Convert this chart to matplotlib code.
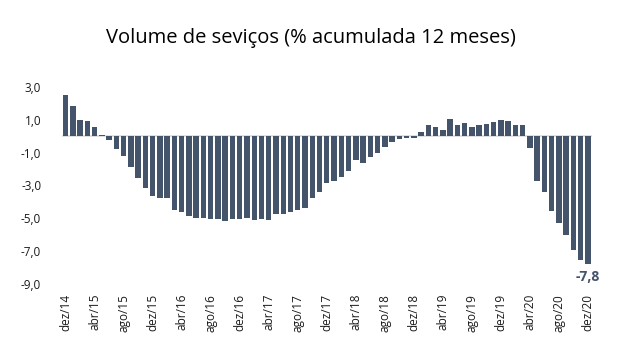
import matplotlib
matplotlib.use("Agg")
import matplotlib.pyplot as plt
import numpy as np

plt.rcParams['font.family'] = ['Open Sans', 'DejaVu Sans']

title = "Volume de seviços (% acumulada 12 meses)"
months = ["jan", "fev", "mar", "abr", "mai", "jun", "jul", "ago", "set", "out", "nov", "dez"]
# dez/14 .. dez/20 (73 months)
values = [
    2.5, 1.8, 1.0, 0.9, 0.55, 0.06,
    -0.24, -0.79, -1.22, -1.89, -2.56, -3.17, -3.66, -3.78, -3.78, -4.51, -4.63, -4.88,
    -5.0, -5.0, -5.06, -5.06, -5.18, -5.06, -5.06, -5.0, -5.12, -5.06, -5.12, -4.76,
    -4.76, -4.63, -4.51, -4.39, -3.78, -3.41, -2.86, -2.74, -2.5, -2.13, -1.46, -1.65,
    -1.28, -1.04, -0.67, -0.37, -0.18, -0.12, -0.12, 0.24, 0.67, 0.55, 0.37, 1.04,
    0.67, 0.79, 0.55, 0.67, 0.73, 0.85, 0.98, 0.91, 0.67, 0.67, -0.73, -2.74,
    -3.41, -4.57, -5.30, -6.03, -6.89, -7.5, -7.8,
]
labels = ["dez/14"]
for y in range(15, 21):
    for m in months:
        labels.append(f"{m}/{y}")
yticks = [3.0, 1.0, -1.0, -3.0, -5.0, -7.0, -9.0]
last_label = "-7,8"

bar_color = "#44546A"

fig = plt.figure(figsize=(6.22, 3.58), dpi=100)
ax = fig.add_axes([0.0997, 0.206, 0.8513, 0.552])
x = np.arange(len(values))
ax.bar(x, values, width=0.75, color=bar_color, zorder=2)
ax.axhline(0, color="#D9D9D9", linewidth=1.2, zorder=1)
ax.set_xlim(-0.5, len(values) - 0.5)
ax.set_ylim(-9, 3)
ax.set_yticks(yticks)
ax.set_yticklabels([f"{v:.1f}".replace(".", ",") for v in yticks], fontsize=8.5, color="#1a1a1a")
tick_idx = list(range(0, len(values), 4))
ax.set_xticks(tick_idx)
ax.set_xticklabels([labels[i] for i in tick_idx], rotation=90, fontsize=8.5, color="#1a1a1a")
ax.tick_params(axis="both", length=0)
ax.tick_params(axis="x", pad=7)
ax.tick_params(axis="y", pad=15)
for s in ax.spines.values():
    s.set_visible(False)
ax.annotate(last_label, (x[-1], values[-1]), xytext=(0, -4), textcoords="offset points",
            ha="center", va="top", fontsize=10, fontweight="bold", color=bar_color)
fig.text(0.5, 0.894, title, ha="center", va="center", fontsize=14.5, color="black")
fig.savefig("out.png", dpi=100)
